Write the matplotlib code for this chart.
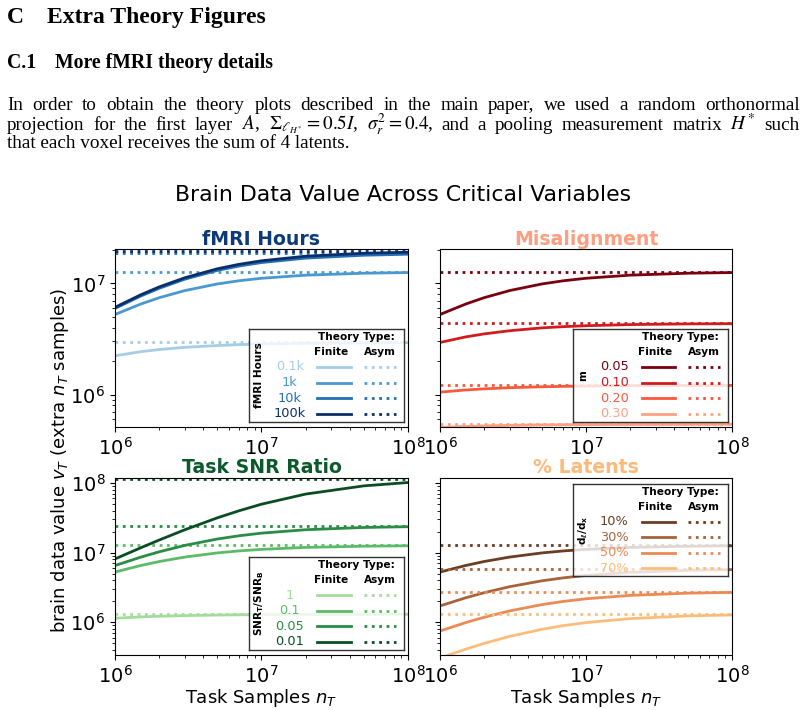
import matplotlib
matplotlib.use("Agg")
import matplotlib.pyplot as plt

n_task = [1e6, 1.5e6, 2e6, 3e6, 5e6, 7e6, 1e7, 2e7, 5e7, 1e8]

# fMRI hours
hours_labels = ["0.1k", "1k", "10k", "100k"]
hours_colors = ["#a6cde6", "#4a98cf", "#2270b5", "#0b2e6b"]
hours_finite = [
    [2.23e6, 2.43e6, 2.54e6, 2.66e6, 2.76e6, 2.81e6, 2.85e6, 2.89e6, 2.92e6, 2.93e6],
    [5.25e6, 6.52e6, 7.43e6, 8.62e6, 9.89e6, 1.056e7, 1.112e7, 1.186e7, 1.235e7, 1.252e7],
    [5.95e6, 7.70e6, 9.03e6, 1.092e7, 1.309e7, 1.432e7, 1.540e7, 1.689e7, 1.793e7, 1.831e7],
    [6.09e6, 7.90e6, 9.29e6, 1.125e7, 1.354e7, 1.484e7, 1.598e7, 1.757e7, 1.868e7, 1.908e7],
]
hours_asym = [2.94e6, 1.27e7, 1.87e7, 1.95e7]

# misalignment m
mis_labels = ["0.05", "0.10", "0.20", "0.30"]
mis_colors = ["#7a0010", "#d01c1f", "#f8593c", "#fca083"]
mis_finite = [
    [5.25e6, 6.52e6, 7.43e6, 8.62e6, 9.89e6, 1.056e7, 1.112e7, 1.186e7, 1.235e7, 1.252e7],
    [2.94e6, 3.30e6, 3.51e6, 3.75e6, 3.98e6, 4.08e6, 4.16e6, 4.26e6, 4.32e6, 4.34e6],
    [1.05e6, 1.099e6, 1.124e6, 1.152e6, 1.174e6, 1.184e6, 1.192e6, 1.201e6, 1.206e6, 1.208e6],
    [5.05e5, 5.16e5, 5.22e5, 5.28e5, 5.33e5, 5.35e5, 5.36e5, 5.38e5, 5.39e5, 5.40e5],
]
mis_asym = [1.27e7, 4.36e6, 1.21e6, 5.4e5]

# task SNR ratio
snr_labels = ["1", "0.1", "0.05", "0.01"]
snr_colors = ["#a4dc9c", "#5cbb68", "#2a8c47", "#0a4d22"]
snr_finite = [
    [1.14e6, 1.189e6, 1.215e6, 1.242e6, 1.265e6, 1.275e6, 1.282e6, 1.291e6, 1.296e6, 1.298e6],
    [5.25e6, 6.52e6, 7.43e6, 8.62e6, 9.89e6, 1.056e7, 1.112e7, 1.186e7, 1.235e7, 1.252e7],
    [6.51e6, 8.60e6, 1.025e7, 1.269e7, 1.567e7, 1.742e7, 1.902e7, 2.130e7, 2.295e7, 2.356e7],
    [8.1e6, 1.173e7, 1.513e7, 2.13e7, 3.16e7, 3.98e7, 4.96e7, 6.93e7, 9.10e7, 1.016e8],
]
snr_asym = [1.30e6, 1.27e7, 2.42e7, 1.15e8]

# % latents
lat_labels = ["10%", "30%", "50%", "70%"]
lat_colors = ["#6b3d22", "#a8633a", "#ec8a55", "#fdbd7a"]
lat_finite = [
    [5.25e6, 6.52e6, 7.43e6, 8.62e6, 9.89e6, 1.056e7, 1.112e7, 1.186e7, 1.235e7, 1.252e7],
    [1.71e6, 2.24e6, 2.645e6, 3.233e6, 3.93e6, 4.334e6, 4.694e6, 5.196e6, 5.553e6, 5.684e6],
    [7.46e5, 9.85e5, 1.173e6, 1.45e6, 1.788e6, 1.987e6, 2.167e6, 2.424e6, 2.61e6, 2.678e6],
    [3.05e5, 4.09e5, 4.94e5, 6.24e5, 7.89e5, 8.91e5, 9.85e5, 1.124e6, 1.229e6, 1.268e6],
]
lat_asym = [1.27e7, 5.82e6, 2.75e6, 1.31e6]

W, H = 804, 710
fig = plt.figure(figsize=(W / 100, H / 100), dpi=100)


def px(x, y):
    return x / W, 1 - y / H


# ---- paper text above the figure ----
serif = "Liberation Serif"
fig.text(*px(7, 22.7), "C", fontsize=17, fontweight="bold", family=serif)
fig.text(*px(47.5, 22.7), "Extra Theory Figures", fontsize=17, fontweight="bold", family=serif)
fig.text(*px(7, 68.3), "C.1", fontsize=14.2, fontweight="bold", family=serif)
fig.text(*px(55, 68.3), "More fMRI theory details", fontsize=14.2, fontweight="bold", family=serif)

para = [
    "In order to obtain the theory plots described in the main paper, we used a random orthonormal",
    r"projection for the first layer $A$, $\Sigma_{\ell_{H^*}}=0.5I$, $\sigma_r^2=0.4$, and a pooling measurement matrix $H^*$ such",
]
para_last = "that each voxel receives the sum of 4 latents."
para_size = 13.8
renderer = fig.canvas.get_renderer()
for line, base in zip(para, [110, 129.5]):
    words = line.split(" ")
    txts = [fig.text(0, 0, w_, fontsize=para_size, family=serif, math_fontfamily="stix")
            for w_ in words]
    widths = [t.get_window_extent(renderer).width for t in txts]
    gap = (800 - 7 - sum(widths)) / (len(words) - 1)
    x = 7
    for t, wd in zip(txts, widths):
        t.set_position(px(x, base))
        x += wd + gap
fig.text(*px(7, 148), para_last, fontsize=para_size, family=serif)

fig.text(*px(403.5, 195), "Brain Data Value Across Critical Variables",
         fontsize=15.8, ha="center", va="center")

# ---- axes ----
ax_tl = fig.add_axes([115 / W, 1 - 427 / H, 293 / W, 178 / H])
ax_tr = fig.add_axes([440 / W, 1 - 427 / H, 292 / W, 178 / H], sharey=ax_tl)
ax_bl = fig.add_axes([115 / W, 1 - 655 / H, 293 / W, 177.5 / H])
ax_br = fig.add_axes([440 / W, 1 - 655 / H, 292 / W, 177.5 / H], sharey=ax_bl)


def draw_key(ax, var_name, labels, colors, upper):
    box = ax.inset_axes([0.457, 0.443 if upper else 0.03, 0.531, 0.522])
    box.set_xlim(0, 1)
    box.set_ylim(0, 1)
    box.set_xticks([])
    box.set_yticks([])
    box.set_facecolor((1, 1, 1, 0.8))
    box.set_zorder(5)
    for s in box.spines.values():
        s.set_edgecolor("#333333")
        s.set_linewidth(1)
    box.text(0.69, 0.915, "Theory Type:", ha="center", va="center", fontsize=7.6, fontweight="bold")
    box.text(0.53, 0.75, "Finite", ha="center", va="center", fontsize=7.6, fontweight="bold")
    box.text(0.84, 0.75, "Asym", ha="center", va="center", fontsize=7.6, fontweight="bold")
    box.text(0.065, 0.5, var_name, rotation=90, ha="center", va="center", fontsize=7.6, fontweight="bold")
    for yy, lab, c in zip([0.59, 0.42, 0.253, 0.087], labels, colors):
        box.text(0.263, yy, lab, color=c, ha="center", va="center", fontsize=9.3)
        box.plot([0.44, 0.655], [yy, yy], color=c, lw=2)
        box.plot([0.74, 0.945], [yy, yy], color=c, lw=2, ls=":")


panels = [
    (ax_tl, "fMRI Hours", "#0d3a78", "fMRI Hours", hours_labels, hours_colors, hours_finite, hours_asym, False),
    (ax_tr, "Misalignment", "#fc9e80", "m", mis_labels, mis_colors, mis_finite, mis_asym, False),
    (ax_bl, "Task SNR Ratio", "#0b5a2c", r"$\mathbf{SNR_T/SNR_B}$", snr_labels, snr_colors, snr_finite, snr_asym, False),
    (ax_br, "% Latents", "#fdb97a", r"$\mathbf{d_\ell/d_x}$", lat_labels, lat_colors, lat_finite, lat_asym, True),
]

for ax, title, tcol, var_name, labels, colors, finite, asym, upper in panels:
    for vals, a, c in zip(finite, asym, colors):
        ax.axhline(a, color=c, lw=2, ls=":")
        ax.plot(n_task, vals, color=c, lw=2)
    ax.set_xscale("log")
    ax.set_yscale("log")
    ax.set_xlim(1e6, 1e8)
    ax.set_title(title, color=tcol, fontsize=13.6, fontweight="bold", pad=3)
    ax.tick_params(labelsize=14)
    draw_key(ax, var_name, labels, colors, upper)

ax_tl.set_ylim(5.1e5, 2.04e7)
ax_bl.set_ylim(3.37e5, 1.2e8)
ax_tr.tick_params(labelleft=False)
ax_br.tick_params(labelleft=False)

for ax in (ax_bl, ax_br):
    ax.set_xlabel(r"Task Samples $n_T$", fontsize=13, labelpad=0)

fig.text(*px(60, 460), r"brain data value $v_T$ (extra $n_T$ samples)",
         rotation=90, ha="center", va="center", fontsize=13)

fig.savefig("out.png", dpi=100)
